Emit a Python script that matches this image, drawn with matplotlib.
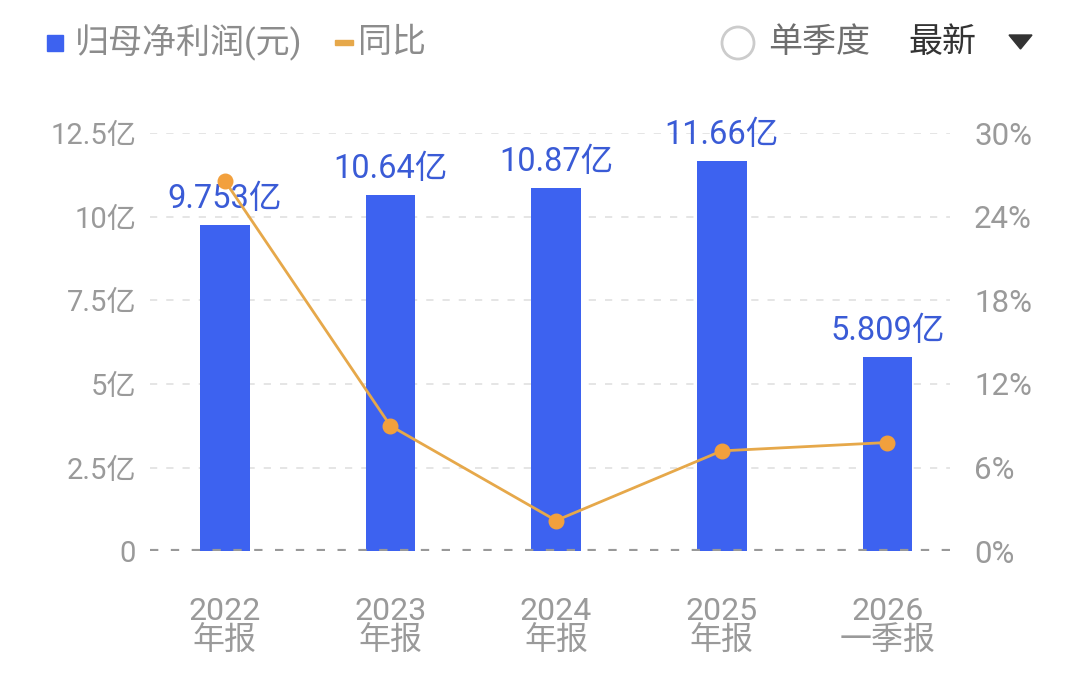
import matplotlib.pyplot as plt
from matplotlib.patches import Rectangle, Circle, Polygon

plt.rcParams['font.family'] = ['Roboto', 'Noto Sans CJK SC', 'DejaVu Sans']

# data
categories = ["2022\n年报", "2023\n年报", "2024\n年报", "2025\n年报", "2026\n一季报"]
profit = [9.753, 10.64, 10.87, 11.66, 5.809]          # 亿元
profit_labels = ["9.753亿", "10.64亿", "10.87亿", "11.66亿", "5.809亿"]
yoy = [26.6, 9.0, 2.2, 7.2, 7.8]                      # %
left_ticks = [0, 2.5, 5, 7.5, 10, 12.5]
left_labels = ["0", "2.5亿", "5亿", "7.5亿", "10亿", "12.5亿"]
right_ticks = [0, 6, 12, 18, 24, 30]
right_labels = ["0%", "6%", "12%", "18%", "24%", "30%"]

bar_color = "#3d62f0"
line_color = "#e6a84a"
dot_color = "#f2a03d"
label_blue = "#3a5bd6"
tick_gray = "#9a9a9a"

fig = plt.figure(figsize=(10.8, 6.83), dpi=100)
ax = fig.add_axes([0.139, 0.193, 0.741, 0.612])
ax2 = ax.twinx()

x = list(range(len(categories)))
ax.bar(x, profit, width=0.3, color=bar_color, zorder=2)
for xi, v, s in zip(x, profit, profit_labels):
    ax.text(xi, v + 0.3, s, ha="center", va="bottom", fontsize=23.5, color=label_blue, zorder=5)

ax.set_xlim(-0.45, 4.38)
ax.set_ylim(0, 12.5)
ax.set_yticks(left_ticks)
ax.set_yticklabels(left_labels)
ax.set_xticks(x)
ax.set_xticklabels(categories, linespacing=1.0)
ax.tick_params(axis="y", length=0, pad=10, labelsize=21, labelcolor=tick_gray)
ax.tick_params(axis="x", length=0, pad=54, labelsize=23, labelcolor=tick_gray)
for t in ax.get_xticklabels():
    t.set_verticalalignment("center")
for y in left_ticks[1:]:
    ax.axhline(y, color="#e3e3e3", lw=1.3, ls=(0, (4, 5)), zorder=1)
ax.axhline(0, color="#999999", lw=3, ls=(0, (2, 3)), zorder=3)
for sp in ax.spines.values():
    sp.set_visible(False)

ax2.plot(x, yoy, color=line_color, lw=2, zorder=4)
ax2.scatter(x, yoy, s=110, color=dot_color, zorder=5)
ax2.set_ylim(0, 30)
ax2.set_yticks(right_ticks)
ax2.set_yticklabels(right_labels)
ax2.tick_params(axis="y", length=0, pad=17, labelsize=22.5, labelcolor=tick_gray)
for sp in ax2.spines.values():
    sp.set_visible(False)

# header legend and controls
fig.patches.append(Rectangle((47 / 1080, 1 - 51 / 683), 16 / 1080, 16 / 683,
                             transform=fig.transFigure, color=bar_color))
fig.text(75 / 1080, 1 - 43 / 683, "归母净利润(元)", fontsize=24.5, color="#8c8c8c", va="center")
fig.patches.append(Rectangle((335 / 1080, 1 - 45 / 683), 18 / 1080, 5 / 683,
                             transform=fig.transFigure, color=line_color))
fig.text(358 / 1080, 1 - 43 / 683, "同比", fontsize=24.5, color="#8c8c8c", va="center")
fig.patches.append(Circle((738, 683 - 43), 16, transform=None, fill=False,
                          edgecolor="#cccccc", lw=2))
fig.text(768 / 1080, 1 - 43 / 683, "单季度", fontsize=24.5, color="#6e6e6e", va="center")
fig.text(908 / 1080, 1 - 43 / 683, "最新", fontsize=24.5, color="#333333", va="center")
fig.patches.append(Polygon([(1009, 683 - 35), (1032, 683 - 35), (1020.5, 683 - 49)],
                           closed=True, transform=None, color="#333333"))

fig.savefig("out.png", dpi=100)
